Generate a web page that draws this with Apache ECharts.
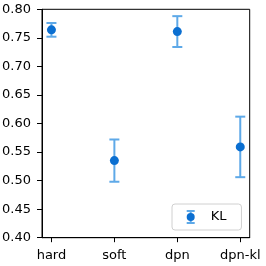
<!DOCTYPE html>
<html><head><meta charset="utf-8">
<script src="https://cdn.jsdelivr.net/npm/echarts@6/dist/echarts.min.js"></script>
<style>html,body{margin:0;padding:0;background:#fff}#c{width:266px;height:266px}</style>
</head><body><div id="c"></div>
<script>
const categories = ['hard', 'soft', 'dpn', 'dpn-kl'];
const means = [0.764, 0.535, 0.761, 0.559];
const errors = [0.012, 0.037, 0.027, 0.053];
const seriesName = 'KL';

const FONT = 'DejaVu Sans';
const DOT = '#0b6fd1';
const BAR = '#5ea9e8';

const positions = categories.map((c, i) => i);
const dotData = means.map((m, i) => [i, m]);
const errData = means.map((m, i) => [i, m - errors[i], m + errors[i]]);

const chart = echarts.init(document.getElementById('c'), null, {renderer: 'canvas'});
chart.setOption({
  backgroundColor: '#fff',
  animation: false,
  grid: {left: 42, right: 16.3, top: 9.3, bottom: 28.3, show: true, borderColor: '#000', borderWidth: 1, outerBoundsMode: 'none', containLabel: false},
  xAxis: {
    type: 'value', min: -0.15, max: 3.15,
    splitLine: {show: false},
    axisLine: {show: true, onZero: false, lineStyle: {color: '#000', width: 1}},
    axisTick: {show: true, length: 4.5, customValues: positions, lineStyle: {color: '#000', width: 1}},
    axisLabel: {customValues: positions, margin: 11, color: '#000', fontFamily: FONT, fontSize: 13,
      formatter: v => categories[Math.round(v)] || ''}
  },
  yAxis: {
    type: 'value', min: 0.4, max: 0.8, interval: 0.05,
    splitLine: {show: false},
    axisLine: {show: true, onZero: false, lineStyle: {color: '#000', width: 1}},
    axisTick: {show: true, length: 5, lineStyle: {color: '#000', width: 1}},
    axisLabel: {margin: 11, color: '#000', fontFamily: FONT, fontSize: 13, formatter: v => v.toFixed(2)}
  },
  legend: [
    {
      data: [seriesName], left: 172, top: 204, orient: 'vertical',
      padding: [6, 15, 6, 14.7], itemWidth: 8, itemHeight: 14,
      icon: 'path://M0,0H8V2H5V12H8V14H0V12H3V2H0Z',
      itemStyle: {color: BAR},
      backgroundColor: '#fff', borderColor: '#d0d0d0', borderWidth: 1, borderRadius: 3,
      formatter: name => '{t|' + name + '}',
      textStyle: {color: '#000', fontFamily: FONT, fontSize: 13,
        rich: {t: {color: '#000', fontFamily: FONT, fontSize: 13, padding: [0, 0, 0, 11]}}},
      selectedMode: false, z: 10
    },
    {
      data: [seriesName + '_dot'], left: 186.7, top: 213, orient: 'vertical',
      padding: 0, itemWidth: 8, itemHeight: 8, icon: 'circle',
      formatter: () => '', textStyle: {fontSize: 1},
      selectedMode: false, z: 11
    }
  ],
  series: [
    {
      name: seriesName, type: 'custom', data: errData,
      encode: {x: 0, y: [1, 2]},
      itemStyle: {color: BAR},
      renderItem: function (params, api) {
        const x = api.value(0);
        const lo = api.coord([x, api.value(1)]);
        const hi = api.coord([x, api.value(2)]);
        const cw = 5;
        const style = {stroke: BAR, lineWidth: 2, fill: null};
        return {type: 'group', children: [
          {type: 'line', shape: {x1: lo[0], y1: lo[1], x2: hi[0], y2: hi[1]}, style: style},
          {type: 'line', shape: {x1: lo[0] - cw, y1: lo[1], x2: lo[0] + cw, y2: lo[1]}, style: style},
          {type: 'line', shape: {x1: hi[0] - cw, y1: hi[1], x2: hi[0] + cw, y2: hi[1]}, style: style}
        ]};
      },
      z: 2
    },
    {
      name: seriesName + '_dot', type: 'scatter', data: dotData,
      symbol: 'circle', symbolSize: 9, itemStyle: {color: DOT, opacity: 1}, z: 3
    }
  ]
});
</script></body></html>
